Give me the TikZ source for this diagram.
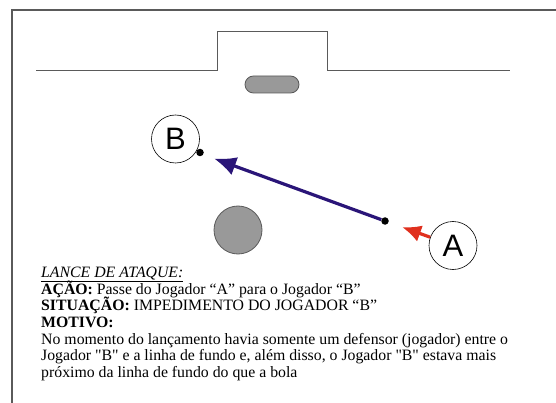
\documentclass[tikz,border=0pt]{standalone}
\usepackage{fontspec}
\setmainfont{Liberation Serif}
\newfontfamily\txtfont{Liberation Serif}
\newfontfamily\plsans{Liberation Sans}
\usetikzlibrary{arrows.meta}
\definecolor{framegray}{HTML}{5A5A5A}
\definecolor{ballgray}{HTML}{999999}
\definecolor{passblue}{HTML}{2A1578}
\definecolor{runred}{HTML}{E0301E}
\tikzset{
  frameline/.style={draw=framegray, line width=1.8pt},
  fieldline/.style={draw=framegray, line width=1pt},
  player/.style={circle, draw=black, line width=0.6pt, fill=white, minimum size=48pt, inner sep=0pt, font=\plsans\fontsize{31}{31}\selectfont},
  dot/.style={circle, fill=black, minimum size=7.5pt, inner sep=0pt},
  ball/.style={circle, draw=framegray, line width=0.8pt, fill=ballgray, minimum size=48pt, inner sep=0pt},
  txt/.style={anchor=base west, inner sep=0pt, font=\txtfont\fontsize{15.8}{16.6}\selectfont},
}
\begin{document}
\begin{tikzpicture}[x=1pt,y=-1pt]
\useasboundingbox (0,0) rectangle (556,403);
\fill[white] (0,0) rectangle (556,403);
% frame
\coordinate (fbl) at (12,404);
\coordinate (ftl) at (12,10);
\coordinate (ftr) at (557,10);
\draw[frameline] (fbl) -- (ftl) -- (ftr);
% goal line and goal
\coordinate (gl1) at (36,71);
\coordinate (gl2) at (217,71);
\coordinate (gl3) at (217,31.5);
\coordinate (gl4) at (327,31.5);
\coordinate (gl5) at (327,71);
\coordinate (gl6) at (510,71);
\draw[fieldline] (gl1) -- (gl2) -- (gl3) -- (gl4) -- (gl5) -- (gl6);
% oval
\node[draw=framegray, line width=0.8pt, fill=ballgray, rounded corners=8.5pt, minimum width=54pt, minimum height=17pt, inner sep=0pt] (oval) at (272,84.5) {};
% players
\node[player] (B) at (175.5,139) {B};
\node[player] (A) at (453,245.5) {A};
\node[dot] (dB) at (200,152.5) {};
\node[dot] (dA) at (385,221) {};
\node[ball] (ball) at (238,230) {};
% arrows
\coordinate (btip) at (214,158.5);
\coordinate (rtip) at (402,227);
\draw[passblue, line width=3.2pt, -{Latex[length=22pt,width=19pt]}] (dA) -- (btip);
\draw[runred, line width=3.2pt, -{Latex[length=19pt,width=17pt]}] (A) -- (rtip);
% text
\node[txt] (t1) at (41,277) {\underline{\textit{LANCE DE ATAQUE:}}};
\node[txt] (t2) at (41,294) {\textbf{AÇÃO:} Passe do Jogador “A” para o Jogador “B”};
\node[txt] (t3) at (41,310.5) {\textbf{SITUAÇÃO:} IMPEDIMENTO DO JOGADOR “B”};
\node[txt] (t4) at (41,327) {\textbf{MOTIVO:}};
\node[txt] (t5) at (41,344) {No momento do lançamento havia somente um defensor (jogador) entre o};
\node[txt] (t6) at (41,360.5) {Jogador "B" e a linha de fundo e, além disso, o Jogador "B" estava mais};
\node[txt] (t7) at (41,377) {próximo da linha de fundo do que a bola};
\end{tikzpicture}
\end{document}
